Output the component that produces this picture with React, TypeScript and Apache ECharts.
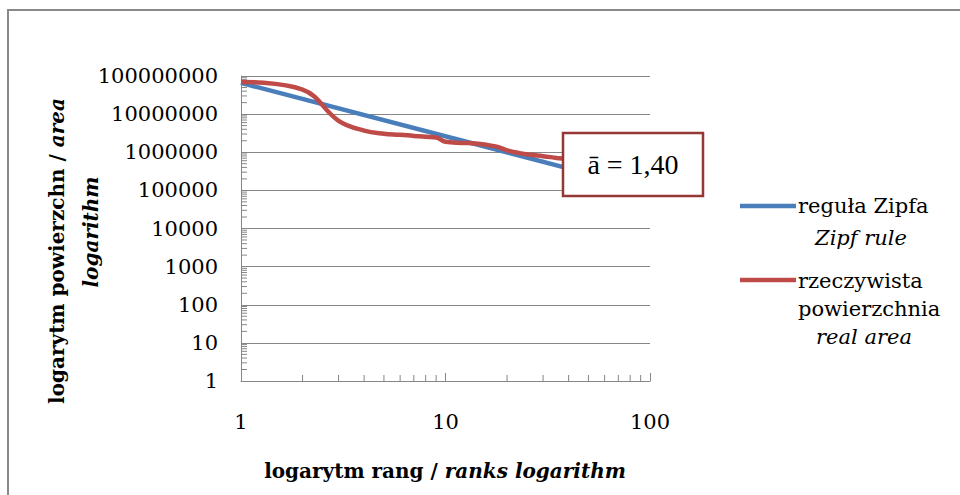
import React, { useEffect, useRef } from 'react';
import * as echarts from 'echarts';

// Zipf rule (straight line on log-log axes, slope 1.40)
const zipfRanks = [1, 42];
const zipfAreas = [6.6e7, 3.5e5];

// Real area by rank
const realRanks = [1, 2, 3, 4, 5, 6, 7, 8, 9, 10, 12, 14, 16, 18, 20, 23, 26, 30, 35, 42];
const realAreas = [
  7.0e7, 4.4e7, 6.7e6, 3.7e6, 3.06e6, 2.88e6, 2.68e6, 2.55e6, 2.45e6, 1.88e6,
  1.76e6, 1.7e6, 1.55e6, 1.38e6, 1.12e6, 9.5e5, 8.6e5, 7.9e5, 7.1e5, 6.3e5,
];

// Minor tick positions on both log axes
const minorMantissas = [2, 3, 4, 5, 6, 7, 8, 9];
const xDecades = [1, 10];
const yDecades = [1, 10, 100, 1000, 1e4, 1e5, 1e6, 1e7];

const zipfLabel = ['reguła Zipfa', 'Zipf rule'];
const realLabel = ['rzeczywista', 'powierzchnia', 'real area'];
const slopeText = 'ā = 1,40';

const FONT = '"DejaVu Serif", serif';
const GREY = '#868686';
const BLUE = '#4a7ebb';
const RED = '#be4b48';
const BOX = '#953735';

export default function App() {
  const ref = useRef<HTMLDivElement>(null);

  useEffect(() => {
    if (!ref.current) return;
    const chart = echarts.init(ref.current, undefined, { renderer: 'svg' });

    const xMinor: number[][] = [];
    xDecades.forEach((d) => minorMantissas.forEach((m) => xMinor.push([m * d, 1])));
    const yMinor: number[][] = [];
    yDecades.forEach((d) => minorMantissas.forEach((m) => yMinor.push([1, m * d])));

    const tickFmt = (v: number) => String(Math.round(v));

    const option: any = {
      animation: false,
      backgroundColor: '#ffffff',
      grid: { left: 241, right: 310, top: 76, bottom: 114 },
      xAxis: {
        type: 'log',
        logBase: 10,
        min: 1,
        max: 100,
        axisLine: { show: true, lineStyle: { color: GREY, width: 1 } },
        axisTick: { show: true, inside: true, length: 8, lineStyle: { color: GREY } },
        axisLabel: { fontFamily: FONT, fontSize: 21, color: '#000', margin: 30, formatter: tickFmt },
        splitLine: { show: false },
      },
      yAxis: {
        type: 'log',
        logBase: 10,
        min: 1,
        max: 1e8,
        axisLine: { show: true, lineStyle: { color: GREY, width: 1 } },
        axisTick: { show: true, inside: true, length: 6, lineStyle: { color: GREY } },
        axisLabel: { fontFamily: FONT, fontSize: 21, color: '#000', margin: 23, formatter: tickFmt },
        splitLine: { show: true, lineStyle: { color: GREY, width: 1 } },
      },
      series: [
        {
          type: 'custom',
          silent: true,
          data: xMinor,
          renderItem: (_p: any, api: any) => {
            const c = api.coord([api.value(0), api.value(1)]);
            return {
              type: 'line',
              shape: { x1: c[0], y1: c[1], x2: c[0], y2: c[1] - 6 },
              style: { stroke: GREY, lineWidth: 1 },
            };
          },
        },
        {
          type: 'custom',
          silent: true,
          data: yMinor,
          renderItem: (_p: any, api: any) => {
            const c = api.coord([api.value(0), api.value(1)]);
            return {
              type: 'line',
              shape: { x1: c[0], y1: c[1], x2: c[0] + 6, y2: c[1] },
              style: { stroke: GREY, lineWidth: 1 },
            };
          },
        },
        {
          name: zipfLabel[0],
          type: 'line',
          data: zipfRanks.map((r, i) => [r, zipfAreas[i]]),
          showSymbol: false,
          lineStyle: { color: BLUE, width: 4.5 },
          z: 3,
        },
        {
          name: realLabel[0],
          type: 'line',
          data: realRanks.map((r, i) => [r, realAreas[i]]),
          showSymbol: false,
          smooth: 0.4,
          lineStyle: { color: RED, width: 4.5 },
          z: 4,
        },
      ],
      graphic: [
        // outer frame
        {
          type: 'rect',
          z: 0,
          shape: { x: 8, y: 10, width: 1000, height: 1000 },
          style: { fill: 'none', stroke: '#898989', lineWidth: 2 },
        },
        // slope annotation
        {
          type: 'rect',
          z: 100,
          shape: { x: 563, y: 133, width: 140, height: 63 },
          style: { fill: '#fff', stroke: BOX, lineWidth: 2.5 },
        },
        {
          type: 'text',
          z: 101,
          x: 633,
          y: 164,
          style: {
            text: slopeText,
            fontFamily: '"Liberation Serif", serif',
            fontSize: 28,
            fill: '#000',
            align: 'center',
            verticalAlign: 'middle',
          },
        },
        // legend
        {
          type: 'line',
          z: 100,
          shape: { x1: 740, y1: 206, x2: 796, y2: 206 },
          style: { stroke: BLUE, lineWidth: 4.5 },
        },
        {
          type: 'text',
          z: 100,
          x: 798,
          y: 206,
          style: { text: zipfLabel[0], fontFamily: FONT, fontSize: 21, fill: '#000', align: 'left', verticalAlign: 'middle' },
        },
        {
          type: 'text',
          z: 100,
          x: 861,
          y: 238,
          style: { text: zipfLabel[1], fontFamily: FONT, fontStyle: 'italic', fontSize: 21, fill: '#000', align: 'center', verticalAlign: 'middle' },
        },
        {
          type: 'line',
          z: 100,
          shape: { x1: 740, y1: 280, x2: 796, y2: 280 },
          style: { stroke: RED, lineWidth: 4.5 },
        },
        {
          type: 'text',
          z: 100,
          x: 798,
          y: 281,
          style: { text: realLabel[0], fontFamily: FONT, fontSize: 21, fill: '#000', align: 'left', verticalAlign: 'middle' },
        },
        {
          type: 'text',
          z: 100,
          x: 798,
          y: 309,
          style: { text: realLabel[1], fontFamily: FONT, fontSize: 21, fill: '#000', align: 'left', verticalAlign: 'middle' },
        },
        {
          type: 'text',
          z: 100,
          x: 864,
          y: 337,
          style: { text: realLabel[2], fontFamily: FONT, fontStyle: 'italic', fontSize: 21, fill: '#000', align: 'center', verticalAlign: 'middle' },
        },
        // axis titles
        {
          type: 'text',
          z: 100,
          x: 445,
          y: 471,
          style: {
            text: '{b|logarytm rang / }{bi|ranks logarithm}',
            align: 'center',
            verticalAlign: 'middle',
            rich: {
              b: { fontFamily: FONT, fontSize: 20, fontWeight: 'bold', fill: '#000' },
              bi: { fontFamily: FONT, fontSize: 20, fontWeight: 'bold', fontStyle: 'italic', fill: '#000' },
            },
          },
        },
        {
          type: 'text',
          z: 100,
          x: 57,
          y: 251,
          rotation: Math.PI / 2,
          style: {
            text: '{b|logarytm powierzchn / }{bi|area}',
            align: 'center',
            verticalAlign: 'middle',
            rich: {
              b: { fontFamily: FONT, fontSize: 20, fontWeight: 'bold', fill: '#000' },
              bi: { fontFamily: FONT, fontSize: 20, fontWeight: 'bold', fontStyle: 'italic', fill: '#000' },
            },
          },
        },
        {
          type: 'text',
          z: 100,
          x: 91,
          y: 232,
          rotation: Math.PI / 2,
          style: {
            text: 'logarithm',
            fontFamily: FONT,
            fontSize: 20,
            fontWeight: 'bold',
            fontStyle: 'italic',
            fill: '#000',
            align: 'center',
            verticalAlign: 'middle',
          },
        },
      ],
    };

    chart.setOption(option);
    return () => chart.dispose();
  }, []);

  return (
    <div
      ref={ref}
      style={{ position: 'absolute', left: 0, top: 0, width: 960, height: 495, background: '#fff' }}
    />
  );
}
